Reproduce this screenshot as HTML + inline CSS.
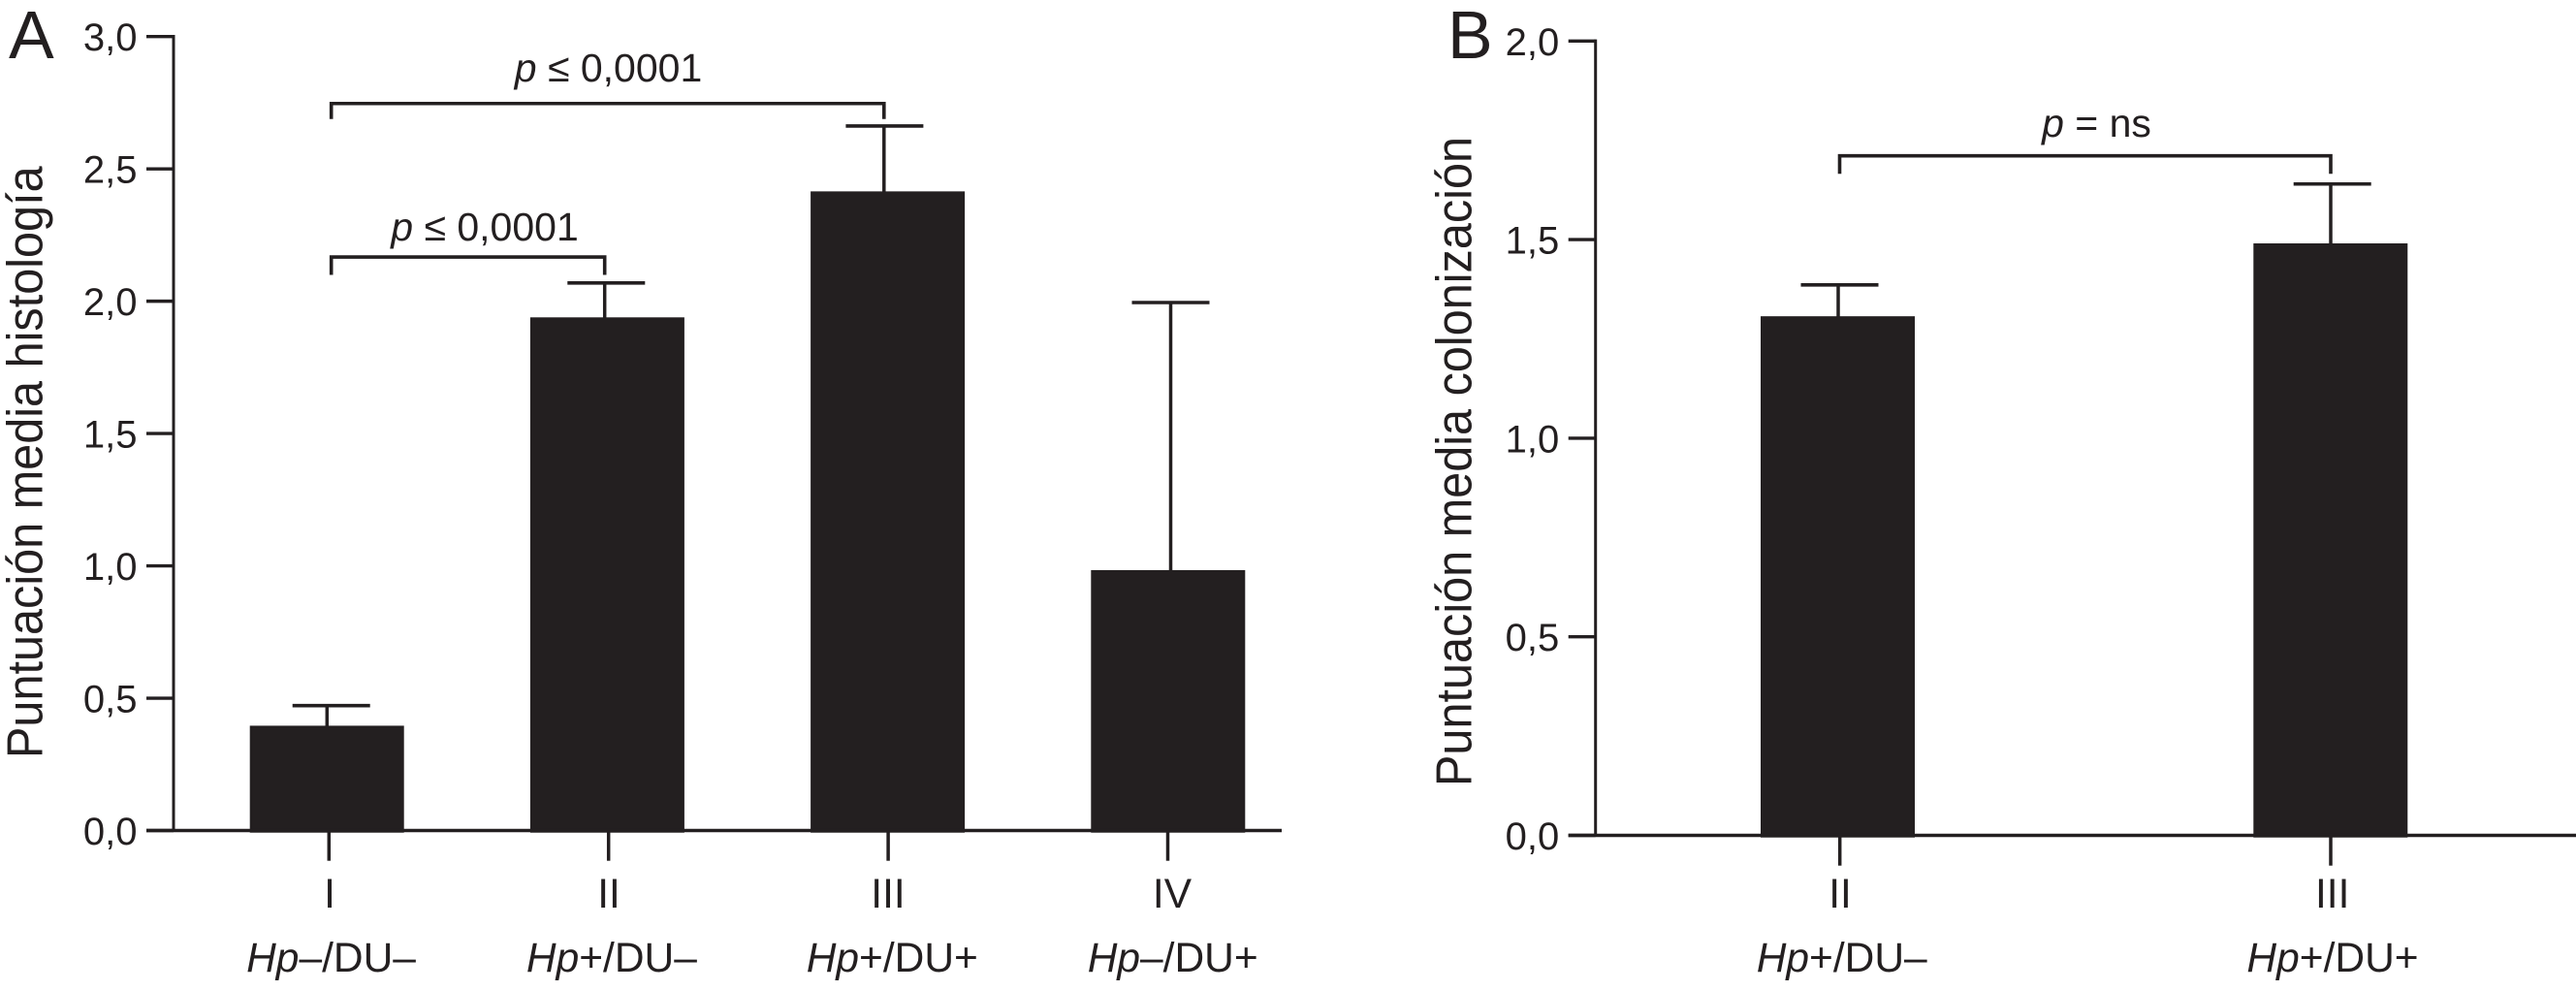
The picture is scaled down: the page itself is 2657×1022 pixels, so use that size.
<!DOCTYPE html>
<html lang="es">
<head>
<meta charset="utf-8">
<title>Puntuación media histología y colonización</title>
<style>
html,body{margin:0;padding:0;background:#fff;}
#figure{display:block;width:2657px;height:1022px;}
text{font-family:"Liberation Sans",sans-serif;fill:#231f20;}
.it{font-style:italic;}
</style>
</head>
<body>
<svg id="figure" xmlns="http://www.w3.org/2000/svg" width="2657" height="1022" viewBox="0 0 2657 1022">
  <rect x="0" y="0" width="2657" height="1022" fill="#fff"/>

  <g id="panel-a"></g>
  <g id="panel-b"></g>

  <text x="9" y="60" font-size="70">A</text>
  <text x="1493" y="60" font-size="70">B</text>

  <text transform="translate(43.5,782) rotate(-90) scale(0.944,1)" font-size="51.5">Puntuación media histología</text>
  <text transform="translate(1517.7,811) rotate(-90) scale(0.944,1)" font-size="51.5">Puntuación media colonización</text>

  <text x="627.5" y="84" font-size="41" text-anchor="middle"><tspan class="it">p</tspan> ≤ 0,0001</text>
  <text x="500" y="248" font-size="41" text-anchor="middle"><tspan class="it">p</tspan> ≤ 0,0001</text>
  <text x="2162.5" y="141" font-size="41" text-anchor="middle"><tspan class="it">p</tspan> = ns</text>
</svg>

<script>
// Panel A data
const categoriesA = ['I', 'II', 'III', 'IV'];
const groupPrefixA = ['Hp', 'Hp', 'Hp', 'Hp'];
const groupSuffixA = ['–/DU–', '+/DU–', '+/DU+', '–/DU+'];
const meansA = [0.396, 1.939, 2.415, 0.984];
const errorTopsA = [0.472, 2.069, 2.662, 1.995];
const yTicksA = [0, 0.5, 1, 1.5, 2, 2.5, 3];
const yTickLabelsA = ['0,0', '0,5', '1,0', '1,5', '2,0', '2,5', '3,0'];
const bracketFromA = [0, 0];
const bracketToA = [1, 2];
const bracketLevelsA = [2.167, 2.747];

// Panel B data
const categoriesB = ['II', 'III'];
const groupPrefixB = ['Hp', 'Hp'];
const groupSuffixB = ['+/DU–', '+/DU+'];
const meansB = [1.307, 1.4905];
const errorTopsB = [1.386, 1.64];
const yTicksB = [0, 0.5, 1, 1.5, 2];
const yTickLabelsB = ['0,0', '0,5', '1,0', '1,5', '2,0'];
const bracketFromB = [0];
const bracketToB = [1];
const bracketLevelsB = [1.711];

const SVG_NS = 'http://www.w3.org/2000/svg';
const INK = '#231f20';

function line(parent, x1, y1, x2, y2, w) {
  const el = document.createElementNS(SVG_NS, 'line');
  el.setAttribute('x1', x1);
  el.setAttribute('y1', y1);
  el.setAttribute('x2', x2);
  el.setAttribute('y2', y2);
  el.setAttribute('stroke', INK);
  el.setAttribute('stroke-width', w);
  parent.appendChild(el);
  return el;
}

function label(parent, x, y, size, anchor, str) {
  const el = document.createElementNS(SVG_NS, 'text');
  el.setAttribute('x', x);
  el.setAttribute('y', y);
  el.setAttribute('font-size', size);
  el.setAttribute('text-anchor', anchor);
  el.textContent = str;
  parent.appendChild(el);
  return el;
}

function drawPanel(root, key, cfg) {
  const yOf = v => cfg.yZero - (cfg.yZero - cfg.yTop) * (v / cfg.yMax);
  const barX = i => cfg.barStart + cfg.barStep * i;
  const stemX = i => barX(i) + cfg.stemDrift[i];
  const capX = i => barX(i) + cfg.capDrift[i];
  const tickX = i => cfg.tickStart + cfg.tickStep * i;
  const labelX = i => cfg.labelStart + cfg.labelStep * i + cfg.labelDrift[i];
  const groupX = i => cfg.groupStart + cfg.groupStep * i;

  cfg.categories.forEach((cat, i) => {
    const stem = line(root, stemX(i), yOf(cfg.errorTops[i]), stemX(i), yOf(cfg.means[i]) + 1, 3.5);
    
    

    const cap = line(root, capX(i) - 40, yOf(cfg.errorTops[i]), capX(i) + 40, yOf(cfg.errorTops[i]), 3.6);
    
    

    const bar = document.createElementNS(SVG_NS, 'rect');
    bar.setAttribute('x', barX(i) - 79.5);
    bar.setAttribute('y', yOf(cfg.means[i]));
    bar.setAttribute('width', 159);
    bar.setAttribute('height', cfg.yZero + 2.2 - yOf(cfg.means[i]));
    bar.setAttribute('fill', INK);
    
    
    root.appendChild(bar);
  });

  // Y axis
  const yAxis = line(root, cfg.axisX, yOf(cfg.yMax) - 1.7, cfg.axisX, cfg.yZero, 3);
  
  

  cfg.yTicks.forEach((v, i) => {
    const t = line(root, cfg.axisX - 28, yOf(v), cfg.axisX, yOf(v), 3.4);
    
    

    const l = label(root, cfg.axisX - 37.5, yOf(v) + 14.5, 40, 'end', cfg.yTickLabels[i]);
    
    
  });

  // X axis
  const xAxis = line(root, cfg.axisX - 28, cfg.yZero, cfg.xEnd, cfg.yZero, 3.6);
  
  

  cfg.categories.forEach((cat, i) => {
    const t = line(root, tickX(i), cfg.yZero + 2, tickX(i), cfg.yZero + 31.2, 3.5);
    
    

    const rn = label(root, labelX(i), 936, 42.5, 'middle', cat);
    
    

    const g = label(root, groupX(i), 1002, 42.5, 'middle', '');
    
    
    const a = document.createElementNS(SVG_NS, 'tspan');
    a.setAttribute('font-style', 'italic');
    a.textContent = cfg.groupPrefix[i];
    g.appendChild(a);
    g.appendChild(document.createTextNode(cfg.groupSuffix[i]));
  });

  // Significance brackets
  cfg.bracketLevels.forEach((level, i) => {
    const y = yOf(level);
    const x1 = capX(cfg.bracketFrom[i]);
    const x2 = stemX(cfg.bracketTo[i]);
    const drop = cfg.bracketDrops[i];
    const b = document.createElementNS(SVG_NS, 'polyline');
    b.setAttribute('points', [x1, y + drop, x1, y, x2, y, x2, y + drop].join(' '));
    b.setAttribute('fill', 'none');
    b.setAttribute('stroke', INK);
    b.setAttribute('stroke-width', 3.6);
    
    
    root.appendChild(b);
  });
}

drawPanel(document.getElementById('panel-a'), 'a', {
  categories: categoriesA, groupPrefix: groupPrefixA, groupSuffix: groupSuffixA,
  means: meansA, errorTops: errorTopsA, yTicks: yTicksA, yTickLabels: yTickLabelsA,
  bracketFrom: bracketFromA, bracketTo: bracketToA, bracketLevels: bracketLevelsA,
  yTop: 37.7, yZero: 856.5, yMax: 3, axisX: 179, xEnd: 1322,
  barStart: 337.2, barStep: 289.2,
  stemDrift: [0.1, -2.7, -3.8, 2.7], capDrift: [4.5, -1.1, -3.2, 2.7],
  tickStart: 339.3, tickStep: 288.4,
  labelStart: 340, labelStep: 288, labelDrift: [0, 0, 0, 5],
  groupStart: 341.5, groupStep: 289.4,
  bracketDrops: [18.5, 16]
});

drawPanel(document.getElementById('panel-b'), 'b', {
  categories: categoriesB, groupPrefix: groupPrefixB, groupSuffix: groupSuffixB,
  means: meansB, errorTops: errorTopsB, yTicks: yTicksB, yTickLabels: yTickLabelsB,
  bracketFrom: bracketFromB, bracketTo: bracketToB, bracketLevels: bracketLevelsB,
  yTop: 42.3, yZero: 861.5, yMax: 2, axisX: 1645.7, xEnd: 2657,
  barStart: 1895.5, barStep: 508.3,
  stemDrift: [0.5, 0.2], capDrift: [2, 1.9],
  tickStart: 1897.7, tickStep: 506.3,
  labelStart: 1898, labelStep: 507.7, labelDrift: [0, 0],
  groupStart: 1899.7, groupStep: 506.3,
  bracketDrops: [18.6]
});
</script>
</body>
</html>
